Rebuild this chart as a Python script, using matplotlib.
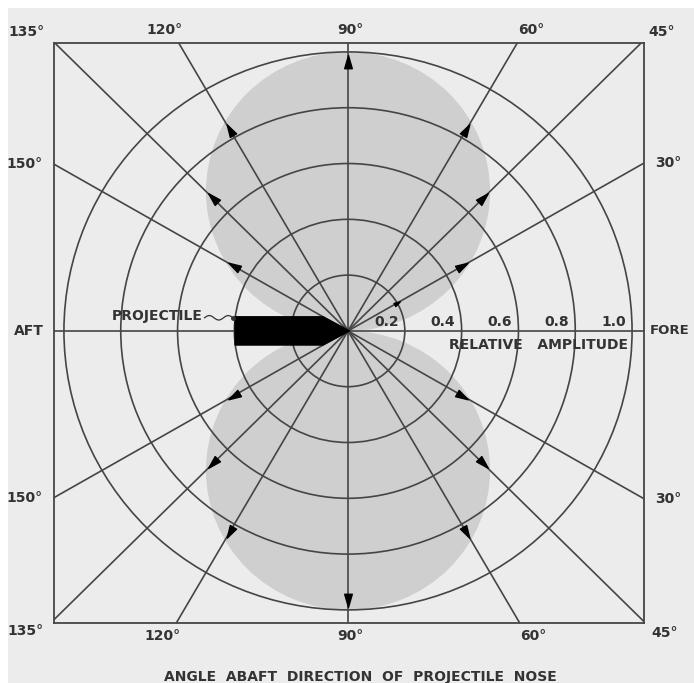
"""
Radiation pattern of a projectile (dipole-like lobes) drawn on a polar grid
inside a square frame, in the style of an old scanned report figure.

Output: out.png
"""
import numpy as np
import matplotlib
matplotlib.use('Agg')  # Non-interactive backend
import matplotlib.pyplot as plt
from matplotlib.patches import Circle, Ellipse, Polygon, Rectangle
from matplotlib.path import Path

# --- data ------------------------------------------------------------------
ray_angles = [30, 45, 60, 90, 120, 135, 150]          # degrees from the nose
ray_labels = ['30°', '45°', '60°', '90°', '120°', '135°', '150°']
ring_radii = [0.2, 0.4, 0.6, 0.8, 1.0]
ring_labels = ['0.2', '0.4', '0.6', '0.8', '1.0']
# amplitude where the arrowhead sits on each ray (upper and lower lobe)
arrow_amplitude_upper = [0.465, 0.672, 0.831, 0.965, 0.831, 0.672, 0.465]
arrow_amplitude_lower = [0.465, 0.672, 0.831, 0.965, 0.831, 0.672, 0.465]
# small extra arrowhead on the upper 30 deg ray
extra_arrow_angle = [30]
extra_arrow_amplitude = [0.2]
# lobes: each is a circle through the origin with this peak amplitude
lobe_peak = [1.0, -1.0]

# --- style -------------------------------------------------------------------
BG = '#ececec'
LOBE = '#cfcfcf'
LINE = '#454545'
INK = '#333333'
FONT = 'DejaVu Sans'
FS = 10
FW = 'bold'

W, H = 694, 683
fig = plt.figure(figsize=(W / 100, H / 100), dpi=100)
fig.patch.set_facecolor(BG)
# white scan margin at top and left
fig.patches.append(Rectangle((0, 1 - 8 / H), 1, 8 / H, transform=fig.transFigure,
                             facecolor='white', edgecolor='none', zorder=-1))
fig.patches.append(Rectangle((0, 0), 8 / W, 1, transform=fig.transFigure,
                             facecolor='white', edgecolor='none', zorder=-1))

# frame box in pixels: x 54..644, y 43..623 (from top)
ax = fig.add_axes([54 / W, (H - 623) / H, 590 / W, 580 / H])
ax.set_xlim(-1.035, 1.042)
ax.set_ylim(-1.047, 1.032)
ax.set_facecolor(BG)
ax.set_xticks([])
ax.set_yticks([])
for sp in ax.spines.values():
    sp.set_color(LINE)
    sp.set_linewidth(1.3)

# shaded lobes
for peak in lobe_peak:
    ax.add_patch(Ellipse((0, peak / 2), abs(peak), abs(peak),
                         facecolor=LOBE, edgecolor='none', zorder=1))

# amplitude rings
for r in ring_radii:
    ax.add_patch(Circle((0, 0), r, facecolor='none', edgecolor=LINE,
                        linewidth=1.2, zorder=2))

# rays (clipped by the frame) and the fore-aft axis
ax.axhline(0, color=LINE, linewidth=1.2, zorder=2)
for a in ray_angles:
    t = np.radians(a)
    for s in (1, -1):
        ax.plot([0, 3 * np.cos(t)], [0, s * 3 * np.sin(t)], color=LINE,
                linewidth=1.2, zorder=2)


def arrow_marker(direction_deg):
    """Triangle marker pointing along direction_deg."""
    base = np.array([(0, 1.0), (-0.55, -0.9), (0.55, -0.9), (0, 1.0)])
    rot = np.radians(direction_deg - 90)
    c, s = np.cos(rot), np.sin(rot)
    verts = base @ np.array([[c, s], [-s, c]])
    return Path(verts, [Path.MOVETO, Path.LINETO, Path.LINETO, Path.CLOSEPOLY])


for a, ru, rl in zip(ray_angles, arrow_amplitude_upper, arrow_amplitude_lower):
    t = np.radians(a)
    ax.plot(ru * np.cos(t), ru * np.sin(t), marker=arrow_marker(a),
            markersize=10, color='black', zorder=4)
    ax.plot(rl * np.cos(t), -rl * np.sin(t), marker=arrow_marker(-a),
            markersize=10, color='black', zorder=4)
for a, r in zip(extra_arrow_angle, extra_arrow_amplitude):
    t = np.radians(a)
    ax.plot(r * np.cos(t), r * np.sin(t), marker=arrow_marker(a),
            markersize=5, color='black', zorder=4)

# projectile silhouette (nose at the origin, pointing fore)
body_tail, body_nose, half = -0.398, -0.088, 0.051
ax.add_patch(Polygon([(body_tail, half), (body_nose, half), (0.006, 0.0),
                      (body_nose, -half), (body_tail, -half)],
                     closed=True, facecolor='black', edgecolor='black',
                     linewidth=0.8, zorder=5))
# wavy leader from the label to the projectile
lx = np.linspace(-0.505, -0.405, 40)
ly = 0.047 + 0.008 * np.sin((lx - lx[0]) / (lx[-1] - lx[0]) * 3 * np.pi)
ax.plot(lx, ly, color=INK, linewidth=0.9, zorder=5)
ax.plot(lx[-1], ly[-1], 'o', color=INK, markersize=2.5, zorder=5)
ax.text(-0.512, 0.054, 'PROJECTILE', ha='right', va='center', fontsize=FS,
        family=FONT, fontweight=FW, color=INK, zorder=6)

# ring labels just inside each ring, above the axis
for r, lab in zip(ring_radii, ring_labels):
    ax.text(r - 0.022, 0.033, lab, ha='right', va='center', fontsize=FS,
            family=FONT, fontweight=FW, color=INK, zorder=6)
ax.text(0.669, -0.05, 'RELATIVE   AMPLITUDE', ha='center', va='center',
        fontsize=FS, family=FONT, fontweight=FW, color=INK, zorder=6)

# AFT / FORE at the ends of the axis
ax.text(-1.125, 0.0, 'AFT', ha='center', va='center', fontsize=FS,
        family=FONT, fontweight=FW, color=INK)
ax.text(1.064, 0.0, 'FORE', ha='left', va='center', fontsize=9.5,
        family=FONT, fontweight=FW, color=INK)

# angle labels where the rays leave the frame
xlo, xhi = ax.get_xlim()
ylo, yhi = ax.get_ylim()
for a, lab in zip(ray_angles, ray_labels):
    t = np.radians(a)
    c, s = np.cos(t), np.sin(t)
    tx = (xhi if c > 0 else -xlo) / abs(c) if abs(c) > 1e-9 else np.inf
    for sign in (1, -1):
        ty = (yhi if sign > 0 else -ylo) / s
        k = min(tx, ty)
        px, py = k * c, sign * k * s
        if a == 45 or a == 135:          # corners
            ha = 'left' if c > 0 else 'right'
            off = (7 if c > 0 else -10, 11 * sign)
        elif ty < tx:                    # top / bottom edge
            ha = 'center'
            off = (2 if a == 90 else (14 if c > 0 else -14), 13 * sign)
        else:                            # left / right edge
            ha = 'left' if c > 0 else 'right'
            off = (11 if c > 0 else -11, 0)
        ax.annotate(lab, xy=(px, py), xytext=off, textcoords='offset pixels',
                    ha=ha, va='center', fontsize=FS, family=FONT,
                    fontweight=FW, color=INK, annotation_clip=False)

fig.text(360 / W, 1 - 677 / H, 'ANGLE  ABAFT  DIRECTION  OF  PROJECTILE  NOSE',
         ha='center', va='center', fontsize=FS, family=FONT, fontweight=FW,
         color=INK)

fig.savefig('out.png', dpi=100, facecolor=fig.get_facecolor())
